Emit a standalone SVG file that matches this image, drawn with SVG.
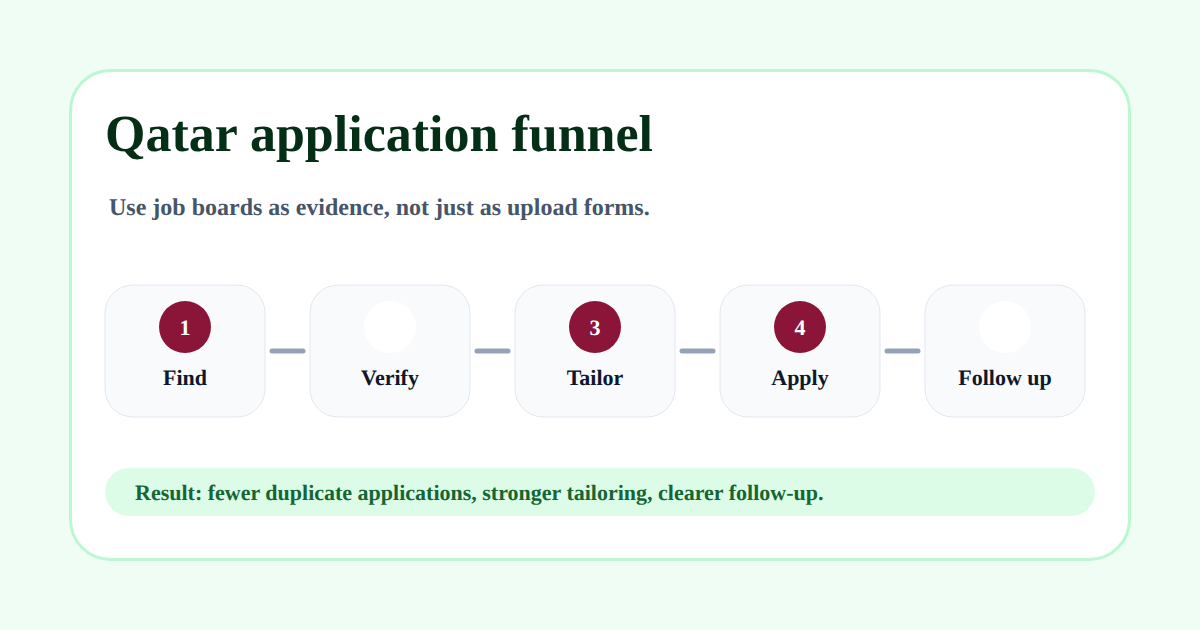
<svg xmlns="http://www.w3.org/2000/svg" width="1200" height="630" viewBox="0 0 1200 630">
<style>
text{font-family:"Liberation Serif","Times New Roman",serif;font-weight:700;text-rendering:geometricPrecision}
.box{fill:#f8fafc;stroke:#e2e8f0;stroke-width:1}
.lab{font-size:22px;fill:#0f172a;text-anchor:middle}
.num{font-size:22px;fill:#fff;text-anchor:middle}
.red{fill:#8a1538}
.white{fill:#fff}
.conn{stroke:#94a3b8;stroke-width:5;stroke-linecap:round;fill:none}
</style>
<rect width="1200" height="630" fill="#f0fdf4"/>
<rect id="card" x="70.500" y="70.500" width="1059" height="489" rx="40" fill="#fff" stroke="#bbf7d0" stroke-width="3"/>
<text id="title" x="105" y="151" font-size="52" fill="#052e16">Qatar application funnel</text>
<text id="subtitle" x="109" y="215" font-size="24" fill="#475569">Use job boards as evidence, not just as upload forms.</text>
<g id="connectors">
<line class="conn" x1="272" y1="351" x2="303" y2="351"/>
<line class="conn" x1="477" y1="351" x2="508" y2="351"/>
<line class="conn" x1="682" y1="351" x2="713" y2="351"/>
<line class="conn" x1="887" y1="351" x2="918" y2="351"/>
</g>
<g id="node-find"><rect class="box" x="105" y="285" width="160" height="132" rx="28"/><circle class="red" cx="185" cy="327" r="26"/><text class="num" x="185" y="335">1</text><text class="lab" x="185" y="385">Find</text></g>
<g id="node-verify"><rect class="box" x="310" y="285" width="160" height="132" rx="28"/><circle class="white" cx="390" cy="327" r="26"/><text class="lab" x="390" y="385">Verify</text></g>
<g id="node-tailor"><rect class="box" x="515" y="285" width="160" height="132" rx="28"/><circle class="red" cx="595" cy="327" r="26"/><text class="num" x="595" y="335">3</text><text class="lab" x="595" y="385">Tailor</text></g>
<g id="node-apply"><rect class="box" x="720" y="285" width="160" height="132" rx="28"/><circle class="red" cx="800" cy="327" r="26"/><text class="num" x="800" y="335">4</text><text class="lab" x="800" y="385">Apply</text></g>
<g id="node-follow-up"><rect class="box" x="925" y="285" width="160" height="132" rx="28"/><circle class="white" cx="1005" cy="327" r="26"/><text class="lab" x="1005" y="385">Follow up</text></g>
<g id="result"><rect x="105" y="468" width="990" height="48" rx="24" fill="#dcfce7"/><text x="135" y="500" font-size="22" fill="#166534">Result: fewer duplicate applications, stronger tailoring, clearer follow-up.</text></g>
</svg>
